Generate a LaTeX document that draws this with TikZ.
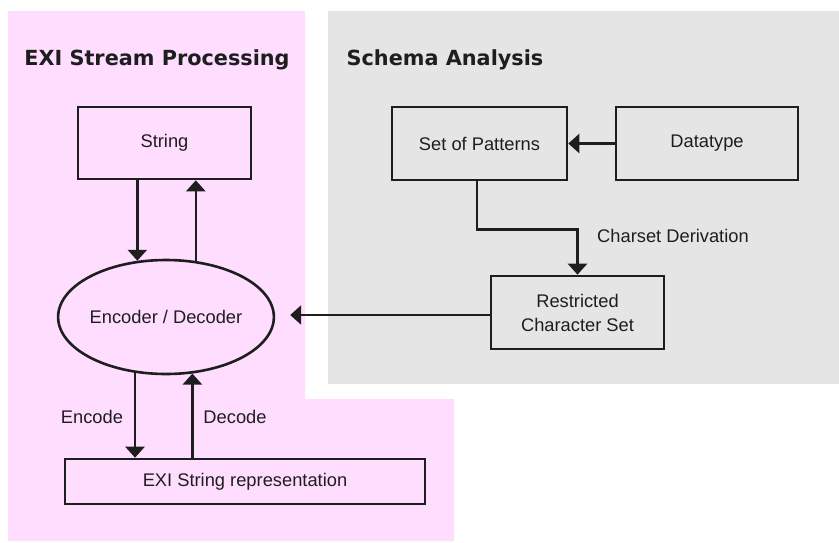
\documentclass[tikz,border=0pt]{standalone}
\usepackage{fontspec}
\setmainfont{Liberation Sans}
\newfontfamily\titlefont{DejaVu Sans}
\usetikzlibrary{arrows.meta,shapes.geometric}
\definecolor{pinkbg}{HTML}{FFDDFF}
\definecolor{graybg}{HTML}{E5E5E5}
\definecolor{ink}{HTML}{1E1E1E}
\begin{document}
\begin{tikzpicture}[x=1pt,y=-1pt,
  every node/.style={font=\fontsize{18.3}{22}\selectfont, text=ink},
  box/.style={draw=ink, line width=2.6pt, rectangle, align=center, inner sep=0pt},
  oval/.style={draw=ink, line width=2.6pt, ellipse, inner sep=0pt},
  arr/.style={draw=ink, line width=2.6pt, -{Triangle[width=19pt,length=11pt]}},
  title/.style={font=\titlefont\bfseries\fontsize{20.8}{24}\selectfont, text=ink},
  lbl/.style={inner sep=0pt}]
\useasboundingbox (0,0) rectangle (839,542);
\fill[white] (0,0) rectangle (839,542);
% backgrounds
\fill[pinkbg] (8,11) -- (305,11) -- (305,399) -- (454,399) -- (454,541) -- (8,541) -- cycle;
\fill[graybg] (328,11) rectangle (839,384);
% titles
\node[title] (t1) at (157,60) {EXI Stream Processing};
\node[title] (t2) at (445,60) {Schema Analysis};
% nodes
\node[box, minimum width=173pt, minimum height=72pt] (str) at (164.5,143) {String};
\node[box, minimum width=175pt, minimum height=73pt] (sop) at (479.5,143.5) {Set of Patterns};
\node[box, minimum width=182pt, minimum height=73pt] (dt) at (707,143.5) {Datatype};
\node[box, minimum width=173pt, minimum height=73pt] (rcs) at (577.5,312.5) {Restricted\\[2pt]Character Set};
\node[oval, minimum width=194pt, minimum height=114pt] (ed) at (166,317) {Encoder / Decoder};
\node[box, minimum width=360pt, minimum height=45pt] (exi) at (245,481.5) {EXI String representation};
% labels
\node[lbl] (enc) at (92,417) {Encode};
\node[lbl] (dec) at (235,417) {Decode};
\node[lbl] (cd) at (673,236) {Charset Derivation};
% connectors
\draw[arr] (str.south -| ed.117) -- (ed.117);
\draw[arr] (ed.62) -- (ed.62 |- str.south);
\draw[arr] (ed.241) -- (ed.241 |- exi.north);
\draw[arr] (ed.295 |- exi.north) -- (ed.295);
\draw[arr] (dt.west) -- (sop.east);
\draw[arr] ([xshift=-2.5pt]sop.south) -- ++(0,48) -| (rcs.north);
\draw[arr, shorten >=15pt] ([yshift=-2.5pt]rcs.west) -- ([yshift=-2.5pt]rcs.west -| ed.east);
\end{tikzpicture}
\end{document}
